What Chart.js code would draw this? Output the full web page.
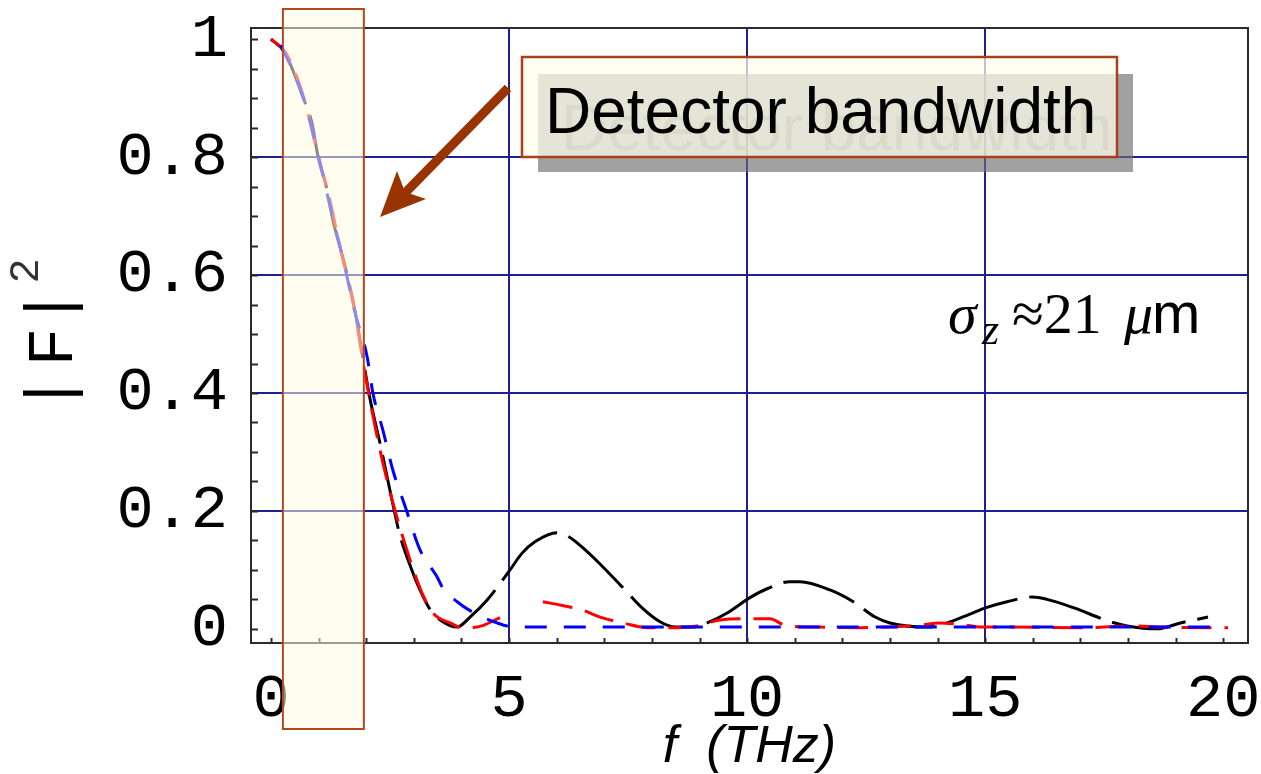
<!DOCTYPE html>
<html>
<head>
<meta charset="utf-8">
<script src="https://cdn.jsdelivr.net/npm/chart.js@4/dist/chart.umd.min.js"></script>
<style>
body{margin:0;background:#fff;}
canvas{display:block;}
</style>
</head>
<body>
<canvas id="formChart" width="1261" height="774"></canvas>
<script>
/* form factor |F|^2 vs frequency (THz) */
const freqBlack=[0,0.29,0.46,0.67,0.86,0.99,1.18,1.30,1.45,1.55,1.76,1.91,2.08,2.29,2.54,2.71,2.92,3.13,3.34,3.61,3.91,4.18,4.54,5.02,5.27,5.55,6.01,6.24,6.64,6.91,7.39,7.8,8.17,8.49,8.87,9.16,9.58,10.06,10.42,10.9,11.11,11.74,12.23,12.69,13.0,13.78,14.2,14.68,15.02,15.46,15.99,16.3,16.85,17.63,17.98,18.61,19.1,19.68];
const valBlack=[1.0,0.978,0.947,0.902,0.858,0.80,0.744,0.693,0.647,0.617,0.541,0.47,0.39,0.315,0.219,0.158,0.108,0.066,0.033,0.012,0.003,0.02,0.049,0.10,0.128,0.148,0.163,0.157,0.131,0.11,0.07,0.035,0.012,0.003,0.003,0.01,0.027,0.053,0.068,0.08,0.08,0.066,0.046,0.02,0.01,0.003,0.01,0.025,0.036,0.046,0.054,0.05,0.036,0.012,0.005,0.0,0.01,0.02];

// null = break in the measured trace
const freqRed=[0,0.3,0.5,0.7,1.0,1.2,1.45,1.75,1.97,2.29,2.56,2.92,3.15,3.4,3.76,4.03,4.33,4.81,5.25,5.71,6.1,6.53,6.91,7.39,7.9,8.4,8.95,9.43,10.0,10.48,10.8,11.5,12.37,12.94,13.6,14.05,14.54,14.9,15.5,17.0,17.5,18.05,18.7,19.7,20.1];
const valRed=[1.0,0.978,0.945,0.898,0.8,0.74,0.647,0.543,0.435,0.303,0.214,0.117,0.065,0.027,0.01,0.002,0.003,0.019,null,0.046,0.04,0.032,0.02,0.01,0.002,0.002,0.005,0.015,0.017,0.017,0.006,0.003,0.002,0.003,0.006,0.01,0.007,0.003,0.003,0.002,0.003,0.005,0.003,0.002,0.002];

const freqBlue=[0.2,0.45,0.7,1.0,1.25,1.5,1.75,2.02,2.14,2.35,2.56,2.82,3.13,3.49,3.61,3.91,4.22,4.75,5.02,5.44,20.0];
const valBlue=[0.99,0.948,0.895,0.8,0.713,0.632,0.541,0.461,0.4,0.337,0.269,0.207,0.134,0.088,0.069,0.046,0.029,0.01,0.004,0.003,0.003];

const xTickLabels=["0","5","10","15","20"];
const yTickLabels=["0","0.2","0.4","0.6","0.8","1"];
const bandLow=0.25, bandHigh=1.95; // detector band, THz

function pts(xs,ys){ return xs.map((x,i)=>({x:x,y:ys[i]})); }

const frame={
id:'frame',
beforeDatasetsDraw(chart){
const {ctx,chartArea:a,scales:{x,y}}=chart;
ctx.save();
ctx.strokeStyle='#2b2b2b';
ctx.lineWidth=2;
ctx.strokeRect(a.left,a.top,a.right-a.left,a.bottom-a.top);
ctx.beginPath();
for(let v=0;v<=1.0001;v+=0.05){
let py=Math.round(y.getPixelForValue(v))+0.5;
ctx.moveTo(a.left,py); ctx.lineTo(a.left+7,py);
}
for(let f=0;f<=20;f++){
let px=Math.round(x.getPixelForValue(f))+0.5;
ctx.moveTo(px,a.bottom); ctx.lineTo(px,a.bottom-5);
}
ctx.stroke();
ctx.restore();
}
};

const notes={
id:'notes',
afterDraw(chart){
const {ctx,chartArea:a,scales:{x}}=chart;
ctx.save();

// y axis title |F|^2
ctx.translate(53,350);
ctx.rotate(-Math.PI/2);
ctx.fillStyle='#000';
ctx.font='64px "Liberation Mono"';
ctx.textAlign='center';
ctx.textBaseline='middle';
ctx.fillText('|',-43,0);
ctx.fillText('F',3,2);
ctx.fillText('|',43,0);
ctx.font='42px "Liberation Mono"';
ctx.fillStyle='#333';
ctx.fillText('2',79,-26);
ctx.setTransform(1,0,0,1,0,0);

// detector band
let x1=x.getPixelForValue(bandLow), x2=x.getPixelForValue(bandHigh);
ctx.fillStyle='rgba(253,251,225,0.55)';
ctx.fillRect(x1,a.top-19,x2-x1,a.bottom+86-(a.top-19));
ctx.strokeStyle='#b04a1c';
ctx.lineWidth=2;
ctx.strokeRect(x1,a.top-19,x2-x1,a.bottom+86-(a.top-19));

// label box with shadow
ctx.fillStyle='rgba(110,110,110,0.65)';
ctx.fillRect(538,74,595,98);
ctx.font='64px "Liberation Sans"';
ctx.textAlign='left';
ctx.textBaseline='alphabetic';
ctx.fillStyle='rgba(90,90,80,0.5)';
ctx.fillText('Detector bandwidth',561,150);
ctx.fillStyle='rgba(255,255,235,0.72)';
ctx.fillRect(522,57,595,100);
ctx.strokeStyle='#a9401a';
ctx.lineWidth=2.5;
ctx.strokeRect(522,57,595,100);
ctx.fillStyle='#000';
ctx.fillText('Detector bandwidth',545,133);

// arrow
ctx.strokeStyle='#993300';
ctx.fillStyle='#993300';
ctx.lineWidth=9;
ctx.beginPath();
ctx.moveTo(508,88);
ctx.lineTo(405,193);
ctx.stroke();
ctx.beginPath();
ctx.moveTo(380,217);
ctx.lineTo(397,171);
ctx.lineTo(405,192);
ctx.lineTo(426,199);
ctx.closePath();
ctx.fill();

// sigma_z label
ctx.fillStyle='#000';
ctx.font='italic 58px "Liberation Serif"';
ctx.fillText('\u03c3',948,333);
ctx.font='italic 44px "Liberation Serif"';
ctx.fillText('z',982,344);
ctx.font='58px "Liberation Serif"';
ctx.fillText('\u224821',1012,333);
ctx.font='italic 58px "Liberation Serif"';
ctx.fillText('\u03bc',1124,333);
ctx.font='58px "Liberation Sans"';
ctx.fillText('m',1152,333);
ctx.restore();
}
};

new Chart(document.getElementById('formChart'),{
type:'line',
data:{datasets:[
{data:pts(freqBlue,valBlue),borderColor:'#0000ff',borderWidth:3,borderDash:[22,17]},
{data:pts(freqRed,valRed),borderColor:'#ff0000',borderWidth:3,borderDash:[30,13],spanGaps:false},
{data:pts(freqBlack,valBlack),borderColor:'#000000',borderWidth:3,borderDash:[75,12]}
]},
options:{
responsive:false,
animation:false,
layout:{padding:{top:28,right:13,left:0,bottom:0}},
plugins:{legend:{display:false},tooltip:{enabled:false}},
elements:{point:{radius:0},line:{cubicInterpolationMode:'monotone',borderCapStyle:'butt'}},
scales:{
x:{
type:'linear',min:-0.42,max:20.52,
afterBuildTicks:s=>{s.ticks=xTickLabels.map(t=>({value:parseFloat(t)}));},
afterFit:s=>{s.height=131;s.paddingLeft=0;s.paddingRight=0;},
border:{display:false},
grid:{drawTicks:false,lineWidth:2,color:c=>(c.tick&&c.tick.value>0&&c.tick.value<20)?'#1f1f8f':'rgba(0,0,0,0)'},
ticks:{autoSkip:false,maxRotation:0,padding:26,color:'#000',font:{family:'"Liberation Mono"',size:62,lineHeight:1},callback:(v,i)=>xTickLabels[i]},
title:{display:true,text:'f  (THz)',color:'#000',padding:0,font:{family:'"Liberation Sans"',style:'italic',size:52,lineHeight:1}}
},
y:{
type:'linear',min:-0.024,max:1.019,
afterBuildTicks:s=>{s.ticks=yTickLabels.map(t=>({value:parseFloat(t)}));},
afterFit:s=>{s.width=251;s.paddingTop=0;s.paddingBottom=0;},
border:{display:false},
grid:{drawTicks:false,lineWidth:2,color:c=>(c.tick&&c.tick.value>0&&c.tick.value<1)?'#1f1f8f':'rgba(0,0,0,0)'},
ticks:{autoSkip:false,padding:23,color:'#000',font:{family:'"Liberation Mono"',size:62,lineHeight:1},callback:(v,i)=>yTickLabels[i]}
}
}
},
plugins:[frame,notes]
});
</script>
</body>
</html>
